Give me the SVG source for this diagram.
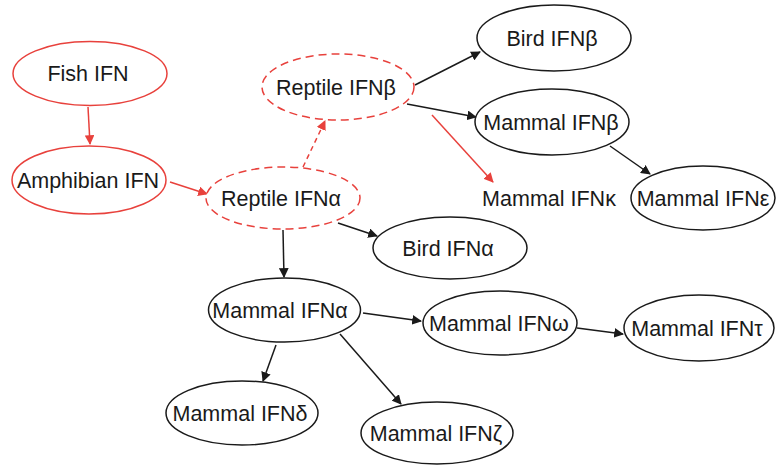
<svg xmlns="http://www.w3.org/2000/svg" width="776" height="465" viewBox="0 0 776 465">
<style>
.n{fill:#fff;stroke:#1a1a1a;stroke-width:1.5}
.r{fill:#fff;stroke:#e8413c;stroke-width:1.5}
.rd{fill:#fff;stroke:#e8413c;stroke-width:1.5;stroke-dasharray:8 5}
text{font-family:"Liberation Sans",Arial,sans-serif;font-size:21.5px;fill:#1a1a1a;text-anchor:middle}
.c line{stroke-width:1.5}
.k{stroke:#1a1a1a;marker-end:url(#ak)}
.e{stroke:#e8413c;marker-end:url(#ar)}
.ed{stroke:#e8413c;stroke-dasharray:5 4;marker-end:url(#ar)}
</style>
<defs>
<marker id="ak" viewBox="0 0 10 10" refX="9" refY="5" markerWidth="6.5" markerHeight="6.5" orient="auto" markerUnits="strokeWidth"><path d="M0,0L10,5L0,10z" fill="#1a1a1a"/></marker>
<marker id="ar" viewBox="0 0 10 10" refX="9" refY="5" markerWidth="6.5" markerHeight="6.5" orient="auto" markerUnits="strokeWidth"><path d="M0,0L10,5L0,10z" fill="#e8413c"/></marker>
</defs>
<rect width="776" height="465" fill="#fff"/>
<g class="c" id="connectors">
<line class="e" x1="88" y1="107" x2="90" y2="144"/>
<line class="e" x1="170" y1="182" x2="207" y2="194"/>
<line class="ed" x1="303" y1="167" x2="325" y2="121"/>
<line class="k" x1="415" y1="85" x2="480" y2="52"/>
<line class="k" x1="407" y1="104" x2="476" y2="117"/>
<line class="e" x1="432" y1="115" x2="493" y2="182"/>
<line class="k" x1="610" y1="146" x2="650" y2="174"/>
<line class="k" x1="338" y1="223" x2="377" y2="236"/>
<line class="k" x1="283" y1="230" x2="284" y2="277"/>
<line class="k" x1="276" y1="345" x2="263" y2="381"/>
<line class="k" x1="340" y1="334" x2="401" y2="404"/>
<line class="k" x1="363" y1="313" x2="421" y2="321"/>
<line class="k" x1="577" y1="328" x2="623" y2="334"/>
</g>
<g id="fish"><ellipse class="r" cx="90" cy="73.5" rx="77" ry="32"/><text x="88" y="81">Fish IFN</text></g>
<g id="amphibian"><ellipse class="r" cx="89" cy="180" rx="77" ry="34"/><text x="88" y="187.5">Amphibian IFN</text></g>
<g id="reptileA"><ellipse class="rd" cx="283" cy="198" rx="77" ry="31"/><text x="281" y="205.5">Reptile IFNα</text></g>
<g id="reptileB"><ellipse class="rd" cx="338" cy="87" rx="76" ry="33"/><text x="336" y="94.5">Reptile IFNβ</text></g>
<g id="birdB"><ellipse class="n" cx="554" cy="38" rx="77" ry="33"/><text x="552" y="45.5">Bird IFNβ</text></g>
<g id="mammalB"><ellipse class="n" cx="552" cy="122" rx="77" ry="33"/><text x="551" y="129.5">Mammal IFNβ</text></g>
<g id="mammalK"><text x="549" y="205.5">Mammal IFNκ</text></g>
<g id="mammalE"><ellipse class="n" cx="703" cy="198" rx="72" ry="32"/><text x="703" y="205.5">Mammal IFNε</text></g>
<g id="birdA"><ellipse class="n" cx="450" cy="248" rx="77" ry="31"/><text x="448" y="255.5">Bird IFNα</text></g>
<g id="mammalA"><ellipse class="n" cx="284.5" cy="310" rx="76" ry="32"/><text x="280" y="317.5">Mammal IFNα</text></g>
<g id="mammalW"><ellipse class="n" cx="500" cy="323" rx="77" ry="32"/><text x="499" y="330.5">Mammal IFNω</text></g>
<g id="mammalT"><ellipse class="n" cx="699" cy="328" rx="75" ry="33"/><text x="697" y="335.5">Mammal IFNτ</text></g>
<g id="mammalD"><ellipse class="n" cx="242" cy="413" rx="76" ry="32"/><text x="240" y="420.5">Mammal IFNδ</text></g>
<g id="mammalZ"><ellipse class="n" cx="437" cy="433" rx="76" ry="31"/><text x="436" y="440.5">Mammal IFNζ</text></g>
</svg>
